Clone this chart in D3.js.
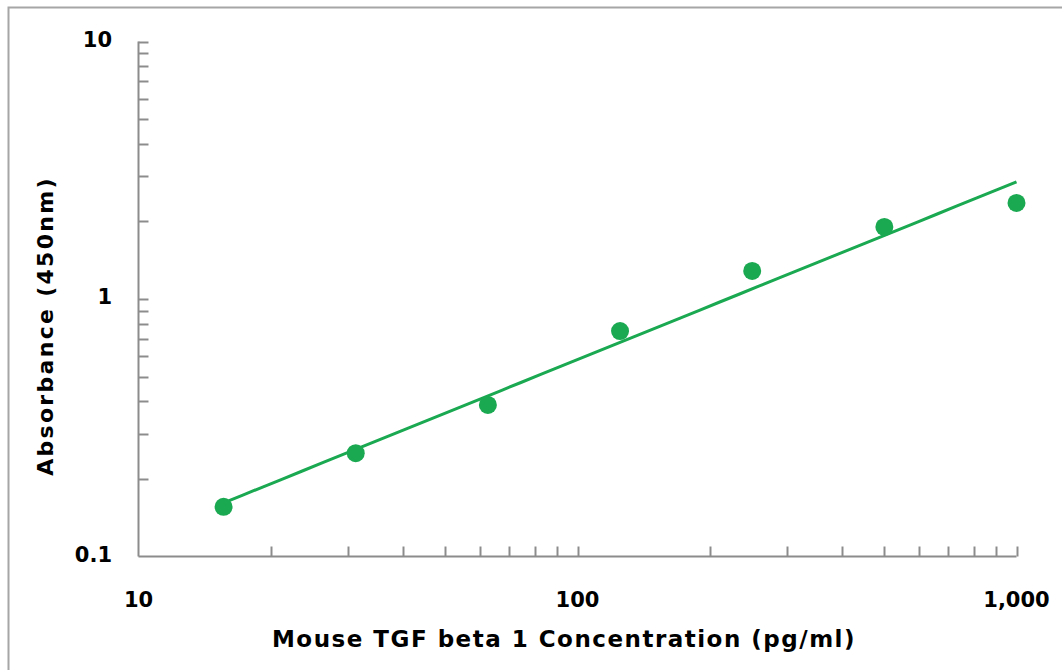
<!DOCTYPE html>
<html>
<head>
<script src="https://d3js.org/d3.v7.min.js"></script>
<style>
    body { margin: 0; background: #fff; }
    text { font-family: "DejaVu Sans", Verdana, sans-serif; font-weight: bold; fill: #000; }
</style>
</head>
<body>
<svg id="chart" width="1062" height="670"></svg>
<script>
    var concentration = [15.625, 31.25, 62.5, 125, 250, 500, 1000];
    var absorbance = [0.156, 0.252, 0.388, 0.751, 1.285, 1.905, 2.36];
    var xTicks = [10, 100, 1000];
    var xTickLabels = ["10", "100", "1,000"];
    var yTicks = [0.1, 1, 10];
    var yTickLabels = ["0.1", "1", "10"];

    var green = "#1aa851";
    var axisGray = "#8c8c8c";

    var svg = d3.select("#chart");

    // outer frame (right and bottom edges fall outside the picture)
    svg.append("rect")
        .attr("x", 8.5).attr("y", 7.5)
        .attr("width", 1100).attr("height", 700)
        .attr("fill", "none")
        .attr("stroke", "#a6a6a6")
        .attr("stroke-width", 2);

    var x = d3.scaleLog().domain([10, 1000]).range([138.5, 1016.5]);
    var y = d3.scaleLog().domain([0.1, 10]).range([556.5, 41.5]);

    // minor + major ticks, drawn inward
    var xMinor = [];
    var yMinor = [];
    [10, 100].forEach(function (d) {
        for (var k = 2; k <= 9; k++) xMinor.push(d * k);
    });
    [0.1, 1].forEach(function (d) {
        for (var k = 2; k <= 9; k++) yMinor.push(d * k);
    });

    var g = svg.append("g");

    g.selectAll(".xtick")
        .data(xMinor.concat([100, 1000]))
        .enter().append("line")
        .attr("x1", function (d) { return Math.round(x(d)) + 0.5; })
        .attr("x2", function (d) { return Math.round(x(d)) + 0.5; })
        .attr("y1", y(0.1))
        .attr("y2", y(0.1) - 10)
        .attr("stroke", axisGray)
        .attr("stroke-width", 2);

    g.selectAll(".ytick")
        .data(yMinor.concat([1, 10]))
        .enter().append("line")
        .attr("x1", x(10))
        .attr("x2", x(10) + 10)
        .attr("y1", function (d) { return Math.round(y(d)) + 0.5; })
        .attr("y2", function (d) { return Math.round(y(d)) + 0.5; })
        .attr("stroke", axisGray)
        .attr("stroke-width", 2);

    // axis lines
    g.append("line")
        .attr("x1", x(10)).attr("x2", x(1000))
        .attr("y1", y(0.1)).attr("y2", y(0.1))
        .attr("stroke", axisGray).attr("stroke-width", 2);
    g.append("line")
        .attr("x1", x(10)).attr("x2", x(10))
        .attr("y1", y(0.1)).attr("y2", y(10))
        .attr("stroke", axisGray).attr("stroke-width", 2);

    // tick labels
    svg.selectAll(".xlabel")
        .data(xTicks)
        .enter().append("text")
        .attr("x", function (d) { return x(d); })
        .attr("y", 607)
        .attr("text-anchor", "middle")
        .attr("font-size", 21)
        .text(function (d, i) { return xTickLabels[i]; });

    svg.selectAll(".ylabel")
        .data(yTicks)
        .enter().append("text")
        .attr("x", 112)
        .attr("y", function (d) { return y(d) + 5; })
        .attr("text-anchor", "end")
        .attr("font-size", 21)
        .text(function (d, i) { return yTickLabels[i]; });

    // axis titles
    svg.append("text")
        .attr("x", 564)
        .attr("y", 647)
        .attr("text-anchor", "middle")
        .attr("font-size", 23)
        .attr("letter-spacing", 1.5)
        .text("Mouse TGF beta 1 Concentration (pg/ml)");

    svg.append("text")
        .attr("transform", "translate(53,326) rotate(-90)")
        .attr("text-anchor", "middle")
        .attr("font-size", 22)
        .attr("letter-spacing", 2.3)
        .text("Absorbance (450nm)");

    // power trendline: least squares fit in log-log space
    var lx = concentration.map(Math.log10);
    var ly = absorbance.map(Math.log10);
    var mx = d3.mean(lx), my = d3.mean(ly);
    var slope = d3.sum(lx, function (v, i) { return (v - mx) * (ly[i] - my); }) /
        d3.sum(lx, function (v) { return (v - mx) * (v - mx); });
    var intercept = my - slope * mx;
    var fitX = d3.range(0, 41).map(function (i) {
        return Math.pow(10, Math.log10(concentration[0]) + i * (3 - Math.log10(concentration[0])) / 40);
    });

    svg.append("path")
        .datum(fitX)
        .attr("fill", "none")
        .attr("stroke", green)
        .attr("stroke-width", 3)
        .attr("d", d3.line()
            .x(function (d) { return x(d); })
            .y(function (d) { return y(Math.pow(10, intercept + slope * Math.log10(d))); }));

    svg.selectAll(".dot")
        .data(concentration)
        .enter().append("circle")
        .attr("cx", function (d) { return x(d); })
        .attr("cy", function (d, i) { return y(absorbance[i]); })
        .attr("r", 9)
        .attr("fill", green);
</script>
</body>
</html>
